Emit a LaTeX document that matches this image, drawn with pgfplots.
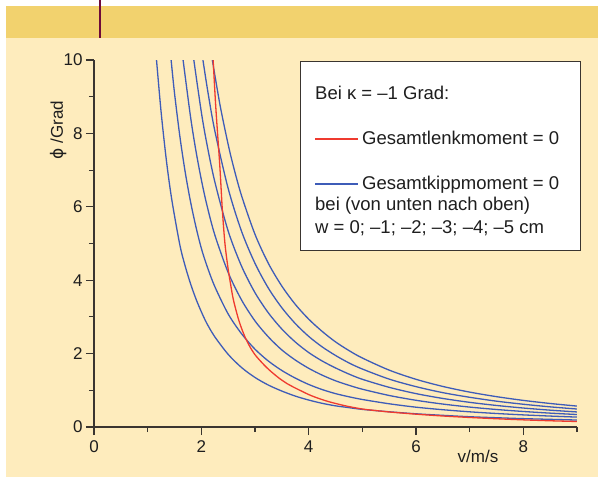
\documentclass[border=0pt]{standalone}
\usepackage{pgfplots}
\pgfplotsset{compat=1.18}
\usepackage{fontspec}
\setmainfont{Liberation Sans}
\newfontfamily\dejavu{DejaVu Sans}
\definecolor{bgc}{HTML}{FEECBD}
\definecolor{bandc}{HTML}{F2D26E}
\definecolor{barc}{HTML}{6E0A3A}
\definecolor{bluec}{HTML}{3E5CB8}
\definecolor{redc}{HTML}{EF3A2F}
\definecolor{axc}{HTML}{3A3530}
\definecolor{txc}{HTML}{1E1E1E}
\begin{document}
\begin{tikzpicture}
\fill[white] (-2pt,2pt) rectangle (602pt,-481pt);
\fill[bgc] (6pt,-38pt) rectangle (602pt,-481pt);
\fill[bandc] (6pt,-6pt) rectangle (602pt,-38pt);
\draw[barc, line width=2pt] (100pt,2pt) -- (100pt,-38pt);
\begin{axis}[
  at={(94pt,-427pt)}, anchor=south west,
  scale only axis, width=483pt, height=367pt,
  xmin=0, xmax=9, ymin=0, ymax=10,
  axis x line*=bottom, axis y line*=left,
  axis line style={draw=axc, line width=1.1pt},
  xtick={0,2,4,6,8}, minor xtick={1,3,5,7,9},
  ytick={0,2,4,6,8,10}, minor ytick={1,3,5,7,9},
  tick align=outside,
  major tick length=8pt, minor tick length=5pt,
  every tick/.style={draw=axc, line width=1.1pt},
  /pgf/number format/assume math mode=true,
  tick label style={font=\fontsize{17}{20}\selectfont, text=txc},
  xticklabel style={yshift=-2pt},
  xlabel={v/m/s},
  xlabel style={at={(axis description cs:0.795,-0.080)}, anchor=center, font=\fontsize{17}{20}\selectfont, text=txc},
  ylabel={{\dejavu ϕ} /Grad},
  ylabel style={at={(axis description cs:-0.074,0.809)}, anchor=center, rotate=0, font=\fontsize{17}{20}\selectfont, text=txc},
  clip=true,
]
\addplot[bluec, line width=1.3pt, smooth] coordinates {
(1.165,10)(1.25,8.59)(1.35,7.25)(1.45,6.19)(1.6,4.96)(1.7,4.38)(1.8,3.90)(1.9,3.49)(2.0,3.14)(2.1,2.83)(2.25,2.46)(2.5,1.98)(2.75,1.62)(3.0,1.35)(3.25,1.142)(3.5,0.98)(3.75,0.843)(4.0,0.735)(4.25,0.646)(4.5,0.577)(4.75,0.528)(5.0,0.48)(5.5,0.415)(6.0,0.36)(6.5,0.318)(7.0,0.28)(7.5,0.253)(8.0,0.228)(8.5,0.209)(9.0,0.19)};
\addplot[bluec, line width=1.3pt, smooth] coordinates {
(1.437,10)(1.5,9.10)(1.6,7.92)(1.7,6.94)(1.8,6.13)(1.9,5.45)(2.0,4.87)(2.1,4.41)(2.25,3.83)(2.5,3.08)(2.75,2.54)(3.0,2.12)(3.25,1.796)(3.5,1.54)(3.75,1.333)(4.0,1.16)(4.25,1.021)(4.5,0.91)(4.75,0.824)(5.0,0.75)(5.5,0.633)(6.0,0.54)(6.5,0.471)(7.0,0.414)(7.5,0.368)(8.0,0.33)(8.5,0.298)(9.0,0.27)};
\addplot[bluec, line width=1.3pt, smooth] coordinates {
(1.66,10)(1.8,8.44)(1.9,7.52)(2.0,6.74)(2.1,6.07)(2.25,5.24)(2.5,4.21)(2.75,3.46)(3.0,2.89)(3.25,2.453)(3.5,2.10)(3.75,1.826)(4.0,1.60)(4.25,1.414)(4.5,1.26)(4.75,1.137)(5.0,1.03)(5.5,0.859)(6.0,0.728)(6.5,0.625)(7.0,0.543)(7.5,0.477)(8.0,0.423)(8.5,0.378)(9.0,0.34)};
\addplot[bluec, line width=1.3pt, smooth] coordinates {
(1.86,10)(2.0,8.58)(2.1,7.74)(2.25,6.69)(2.5,5.34)(2.75,4.38)(3.0,3.66)(3.25,3.108)(3.5,2.67)(3.75,2.317)(4.0,2.03)(4.25,1.800)(4.5,1.61)(4.75,1.443)(5.0,1.30)(5.5,1.081)(6.0,0.91)(6.5,0.778)(7.0,0.672)(7.5,0.587)(8.0,0.517)(8.5,0.459)(9.0,0.41)};
\addplot[bluec, line width=1.3pt, smooth] coordinates {
(2.03,10)(2.12,9.15)(2.25,8.08)(2.5,6.50)(2.75,5.33)(3.0,4.46)(3.25,3.782)(3.5,3.25)(3.75,2.820)(4.0,2.47)(4.25,2.185)(4.5,1.95)(4.75,1.747)(5.0,1.58)(5.5,1.305)(6.0,1.10)(6.5,0.936)(7.0,0.81)(7.5,0.704)(8.0,0.62)(8.5,0.549)(9.0,0.49)};
\addplot[bluec, line width=1.3pt, smooth] coordinates {
(2.205,10)(2.35,8.76)(2.5,7.70)(2.6,7.09)(2.75,6.30)(3.0,5.25)(3.25,4.456)(3.5,3.84)(3.75,3.343)(4.0,2.94)(4.25,2.607)(4.5,2.32)(4.75,2.084)(5.0,1.88)(5.5,1.550)(6.0,1.30)(6.5,1.105)(7.0,0.951)(7.5,0.827)(8.0,0.725)(8.5,0.641)(9.0,0.57)};
\addplot[redc, line width=1.3pt, smooth] coordinates {
(2.22,10)(2.27,8.7)(2.345,7.1)(2.39,5.95)(2.44,5.0)(2.5,4.3)(2.55,3.85)(2.6,3.45)(2.7,2.9)(2.8,2.5)(2.9,2.2)(3.0,1.97)(3.1,1.80)(3.2,1.645)(3.3,1.51)(3.45,1.33)(3.6,1.18)(3.7,1.10)(4.0,0.885)(4.2,0.772)(4.4,0.68)(4.7,0.572)(5.0,0.49)(5.25,0.448)(5.5,0.41)(6.0,0.35)(6.5,0.30)(7.0,0.26)(7.5,0.225)(8.0,0.195)(8.5,0.17)(9.0,0.15)};
\end{axis}
% legend
\draw[draw=axc, line width=0.9pt, fill=white] (300pt,-61pt) rectangle (580pt,-250pt);
\begin{scope}[every node/.style={font=\fontsize{18.5}{22}\selectfont, text=txc, inner sep=0pt}]
\node[anchor=base west] at (315pt,-99pt) {Bei κ = –1 Grad:};
\draw[redc, line width=1.1pt] (315pt,-139pt) -- (358pt,-139pt);
\node[anchor=base west] at (362pt,-144pt) {Gesamtlenkmoment = 0};
\draw[bluec, line width=1.1pt] (315pt,-184pt) -- (358pt,-184pt);
\node[anchor=base west] at (362pt,-189pt) {Gesamtkippmoment = 0};
\node[anchor=base west] at (315pt,-210pt) {bei (von unten nach oben)};
\node[anchor=base west] at (315pt,-233pt) {w = 0; –1; –2; –3; –4; –5 cm};
\end{scope}
\pgfresetboundingbox
\path[use as bounding box] (0pt,0pt) rectangle (598pt,-477pt);
\end{tikzpicture}
\end{document}
